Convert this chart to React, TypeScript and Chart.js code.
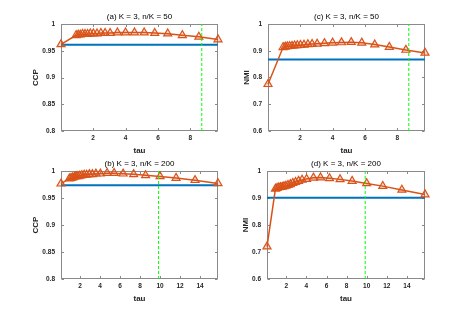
import { useEffect, useRef } from "react";
import { Chart, registerables } from "chart.js";

Chart.register(...registerables);

// ---------- data ----------
const tauAC = [0.02, 0.95, 1.08, 1.21, 1.35, 1.5, 1.66, 1.83, 2.02, 2.24, 2.48, 2.74, 3.05, 3.5, 4.0, 4.55, 5.15, 5.8, 6.6, 7.5, 8.52, 9.7];
const ccpA = [0.962, 0.979, 0.98, 0.98, 0.981, 0.981, 0.981, 0.982, 0.982, 0.982, 0.983, 0.983, 0.983, 0.984, 0.984, 0.984, 0.984, 0.983, 0.982, 0.979, 0.976, 0.971];
const nmiC = [0.775, 0.913, 0.915, 0.916, 0.917, 0.918, 0.919, 0.92, 0.921, 0.922, 0.924, 0.925, 0.926, 0.928, 0.93, 0.931, 0.932, 0.93, 0.923, 0.914, 0.903, 0.892];

const tauBD = [0.08, 0.92, 1.08, 1.25, 1.42, 1.59, 1.77, 1.96, 2.17, 2.4, 2.65, 2.92, 3.22, 3.57, 4.02, 4.7, 5.4, 6.3, 7.35, 8.55, 10.0, 11.6, 13.5, 15.8];
const ccpB = [0.9765, 0.986, 0.987, 0.988, 0.989, 0.99, 0.99, 0.991, 0.992, 0.993, 0.993, 0.994, 0.994, 0.995, 0.995, 0.996, 0.996, 0.995, 0.994, 0.992, 0.99, 0.987, 0.983, 0.977];
const nmiD = [0.72, 0.934, 0.937, 0.939, 0.94, 0.941, 0.943, 0.945, 0.948, 0.951, 0.955, 0.959, 0.963, 0.967, 0.97, 0.975, 0.976, 0.973, 0.969, 0.963, 0.954, 0.944, 0.93, 0.913];

const baselineA = 0.961;
const baselineB = 0.9735;
const baselineC = 0.867;
const baselineD = 0.901;
const vlineAC = 8.7;
const vlineBD = 9.85;

const xTicksAC = [2, 4, 6, 8];
const xTicksBD = [2, 4, 6, 8, 10, 12, 14];
const yTicksCCP = [0.8, 0.85, 0.9, 0.95, 1];
const yTicksNMI = [0.6, 0.7, 0.8, 0.9, 1];

const titles = ["(a) K = 3, n/K = 50", "(b) K = 3, n/K = 200", "(c) K = 3, n/K = 50", "(d) K = 3, n/K = 200"];

// ---------- layout ----------
const W = 469;
const H = 313;
const FONT = "'Liberation Sans', Arial, Helvetica, sans-serif";
const Y_AXIS_W = 30;
const X_AXIS_H = 14;

type Panel = {
  title: string;
  ylabel: string;
  tau: number[];
  vals: number[];
  base: number;
  vline: number;
  yMin: number;
  yMax: number;
  yTicks: number[];
  xTicks: number[];
  area: { l: number; t: number; r: number; b: number };
  ylabelOff: number;
};

const panels: Panel[] = [
  { title: titles[0], ylabel: "CCP", tau: tauAC, vals: ccpA, base: baselineA, vline: vlineAC, yMin: 0.8, yMax: 1, yTicks: yTicksCCP, xTicks: xTicksAC, area: { l: 61, t: 24, r: 218, b: 131 }, ylabelOff: 25 },
  { title: titles[2], ylabel: "NMI", tau: tauAC, vals: nmiC, base: baselineC, vline: vlineAC, yMin: 0.6, yMax: 1, yTicks: yTicksNMI, xTicks: xTicksAC, area: { l: 268, t: 24, r: 425, b: 131 }, ylabelOff: 21 },
  { title: titles[1], ylabel: "CCP", tau: tauBD, vals: ccpB, base: baselineB, vline: vlineBD, yMin: 0.8, yMax: 1, yTicks: yTicksCCP, xTicks: xTicksBD, area: { l: 61, t: 171, r: 218, b: 279 }, ylabelOff: 25 },
  { title: titles[3], ylabel: "NMI", tau: tauBD, vals: nmiD, base: baselineD, vline: vlineBD, yMin: 0.6, yMax: 1, yTicks: yTicksNMI, xTicks: xTicksBD, area: { l: 267, t: 171, r: 425, b: 279 }, ylabelOff: 21 },
];

const decor = {
  id: "decor",
  beforeDatasetsDraw(chart: any, _args: any, opts: any) {
    const { ctx, chartArea: a, scales } = chart;
    const p: Panel = opts.panel;
    ctx.save();
    ctx.strokeStyle = "#8a8a8a";
    ctx.lineWidth = 1;
    const L = Math.round(a.left) + 0.5;
    const T = Math.round(a.top) + 0.5;
    const R = Math.round(a.right) - 0.5;
    const B = Math.round(a.bottom) - 0.5;
    ctx.strokeRect(L, T, R - L, B - T);
    const tl = 2.5;
    ctx.beginPath();
    for (const v of p.xTicks) {
      const x = Math.round(scales.x.getPixelForValue(v)) + 0.5;
      ctx.moveTo(x, B);
      ctx.lineTo(x, B - tl);
      ctx.moveTo(x, T);
      ctx.lineTo(x, T + tl);
    }
    for (const v of p.yTicks) {
      const y = Math.round(scales.y.getPixelForValue(v)) + 0.5;
      ctx.moveTo(L, y);
      ctx.lineTo(L + tl, y);
      ctx.moveTo(R, y);
      ctx.lineTo(R - tl, y);
    }
    ctx.stroke();
    ctx.restore();
  },
  afterDraw(chart: any, _args: any, opts: any) {
    const { ctx, chartArea: a } = chart;
    const p: Panel = opts.panel;
    const cx = (a.left + a.right) / 2;
    ctx.save();
    ctx.fillStyle = "#000";
    ctx.textAlign = "center";
    ctx.textBaseline = "middle";
    ctx.font = `8px ${FONT}`;
    ctx.fillText(p.title, cx, a.top - 7.5);
    ctx.fillStyle = "#262626";
    ctx.font = `bold 8px ${FONT}`;
    ctx.fillText("tau", cx, a.bottom + 19.5);
    ctx.translate(a.left - p.ylabelOff, (a.top + a.bottom) / 2);
    ctx.rotate(-Math.PI / 2);
    ctx.fillText(p.ylabel, 0, 0);
    ctx.restore();
  },
};

function PanelChart({ p }: { p: Panel }) {
  const ref = useRef<HTMLCanvasElement>(null);
  useEffect(() => {
    if (!ref.current) return;
    const xMin = p.tau[0];
    const xMax = p.tau[p.tau.length - 1];
    const tickFont = { family: FONT, size: 6.5, weight: "bold" as const };
    const chart = new Chart(ref.current, {
      type: "line",
      data: {
        datasets: [
          {
            label: "vline",
            data: [
              { x: p.vline, y: p.yMin },
              { x: p.vline, y: p.yMax },
            ],
            borderColor: "#00ff00",
            borderWidth: 1,
            borderDash: [3, 2],
            pointRadius: 0,
            order: 0,
          },
          {
            label: "tau",
            data: p.tau.map((t, i) => ({ x: t, y: p.vals[i] })),
            borderColor: "#D95319",
            borderWidth: 1.5,
            pointStyle: "triangle",
            pointRadius: 4.6,
            pointBorderWidth: 1.2,
            pointBorderColor: "#D95319",
            pointBackgroundColor: "rgba(217,83,25,0.18)",
            clip: false as any,
            order: 1,
          },
          {
            label: "base",
            data: [
              { x: xMin, y: p.base },
              { x: xMax, y: p.base },
            ],
            borderColor: "#0072BD",
            borderWidth: 2,
            pointRadius: 0,
            order: 2,
          },
        ],
      },
      options: {
        responsive: false,
        animation: false,
        devicePixelRatio: 1,
        events: [],
        layout: {
          padding: {
            left: p.area.l - Y_AXIS_W,
            top: p.area.t,
            right: W - p.area.r,
            bottom: H - p.area.b - X_AXIS_H,
          },
        },
        plugins: {
          legend: { display: false },
          tooltip: { enabled: false },
          title: { display: false },
          decor: { panel: p },
        } as any,
        scales: {
          x: {
            type: "linear",
            min: xMin,
            max: xMax,
            grid: { display: false, drawTicks: false },
            border: { display: false },
            ticks: { font: tickFont, color: "#262626", padding: 3, maxRotation: 0, callback: (v: any) => String(v) },
            afterBuildTicks: (s: any) => {
              s.ticks = p.xTicks.map((v) => ({ value: v }));
            },
            afterFit: (s: any) => {
              s.height = X_AXIS_H;
            },
          },
          y: {
            type: "linear",
            min: p.yMin,
            max: p.yMax,
            grid: { display: false, drawTicks: false },
            border: { display: false },
            ticks: { font: tickFont, color: "#262626", padding: 6, callback: (v: any) => String(v) },
            afterBuildTicks: (s: any) => {
              s.ticks = p.yTicks.map((v) => ({ value: v }));
            },
            afterFit: (s: any) => {
              s.width = Y_AXIS_W;
            },
          },
        },
      },
      plugins: [decor as any],
    });
    return () => chart.destroy();
  }, [p]);
  return (
    <canvas
      ref={ref}
      width={W}
      height={H}
      style={{ position: "absolute", left: 0, top: 0, width: W, height: H }}
    />
  );
}

export default function App() {
  return (
    <div style={{ position: "absolute", left: 0, top: 0, width: W, height: H, background: "#fff" }}>
      {panels.map((p, i) => (
        <PanelChart key={i} p={p} />
      ))}
    </div>
  );
}
